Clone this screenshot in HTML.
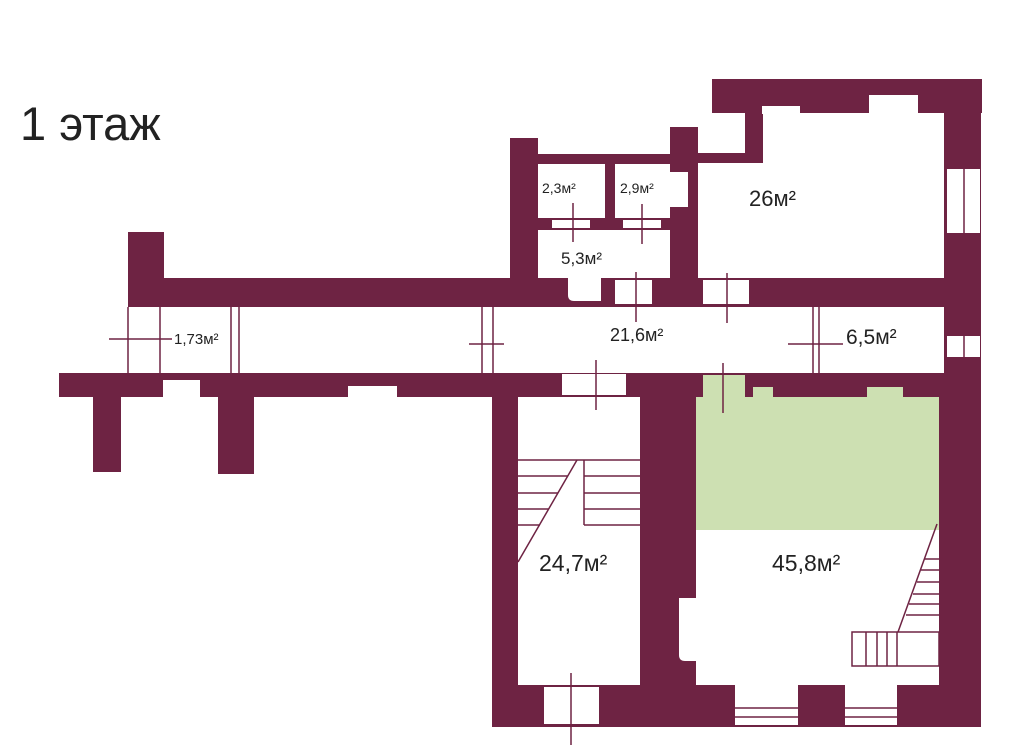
<!DOCTYPE html>
<html><head><meta charset="utf-8"><style>
html,body{margin:0;padding:0;background:#fff}
svg{display:block}
text{font-family:"Liberation Sans",sans-serif;fill:#222}
</style></head><body>
<svg width="1011" height="745" viewBox="0 0 1011 745" xmlns="http://www.w3.org/2000/svg">
<rect width="1011" height="745" fill="#fff"/>
<text x="20" y="140" font-size="47">1 этаж</text>
<g fill="#6e2343">
<rect x="712" y="79" width="270" height="34"/>
<rect x="944" y="79" width="37" height="648"/>
<rect x="745" y="113" width="18" height="50"/>
<rect x="698" y="153" width="65" height="10"/>
<rect x="670" y="127" width="28" height="151"/>
<rect x="510" y="138" width="28" height="140"/>
<rect x="538" y="154" width="132" height="10"/>
<rect x="538" y="218" width="132" height="12"/>
<rect x="605" y="164" width="10" height="54"/>
<rect x="128" y="278" width="816" height="29"/>
<rect x="128" y="232" width="36" height="46"/>
<rect x="59" y="373" width="921" height="24"/>
<rect x="93" y="397" width="28" height="75"/>
<rect x="218" y="397" width="36" height="77"/>
<rect x="492" y="397" width="488" height="330"/>
</g>
<g fill="#fff">
<rect x="763" y="113" width="181" height="165"/>
<rect x="698" y="163" width="65" height="115"/>
<rect x="762" y="106" width="38" height="8"/>
<rect x="869" y="95" width="49" height="19"/>
<rect x="538" y="164" width="67" height="54"/>
<rect x="615" y="164" width="55" height="54"/>
<rect x="670" y="172" width="18" height="35"/>
<rect x="552" y="220" width="38" height="8"/>
<rect x="623" y="220" width="38" height="8"/>
<rect x="538" y="230" width="132" height="48"/>
<path d="M568 278 H601 V301 H574 Q568 301 568 295 Z"/>
<rect x="615" y="280" width="37" height="24"/>
<rect x="703" y="280" width="46" height="24"/>
<rect x="128" y="307" width="660" height="66"/>
<rect x="788" y="321" width="27" height="52"/>
<rect x="815" y="307" width="129" height="66"/>
<rect x="163" y="380" width="37" height="17"/>
<rect x="348" y="386" width="49" height="11"/>
<rect x="562" y="374" width="64" height="21"/>
<rect x="518" y="397" width="122" height="288"/>
<rect x="544" y="687" width="55" height="37"/>
<rect x="696" y="530" width="243" height="155"/>
<path d="M679 598 H697 V661 H685 Q679 661 679 655 Z"/>
<rect x="735" y="685" width="63" height="40"/>
<rect x="845" y="685" width="52" height="40"/>
<rect x="947" y="169" width="33" height="64"/>
<rect x="947" y="336" width="33" height="21"/>
</g>
<g fill="#cde0b2">
<rect x="696" y="397" width="243" height="133"/>
<rect x="753" y="387" width="20" height="11"/>
<rect x="867" y="387" width="36" height="11"/>
<rect x="703" y="375" width="42" height="23"/>
</g>
<g stroke="#6e2343" stroke-width="1.5" fill="none">
<line x1="964" y1="169" x2="964" y2="233"/>
<line x1="964" y1="336" x2="964" y2="357"/>
<line x1="573" y1="203" x2="573" y2="242"/>
<line x1="642" y1="204" x2="642" y2="244"/>
<line x1="636" y1="272" x2="636" y2="322"/>
<line x1="727" y1="273" x2="727" y2="323"/>
<line x1="813" y1="307" x2="813" y2="373"/>
<line x1="819" y1="307" x2="819" y2="373"/>
<line x1="788" y1="344" x2="843" y2="344"/>
<line x1="128" y1="307" x2="128" y2="373"/>
<line x1="160" y1="307" x2="160" y2="373"/>
<line x1="109" y1="339" x2="172" y2="339"/>
<line x1="231" y1="307" x2="231" y2="373"/>
<line x1="239" y1="307" x2="239" y2="373"/>
<line x1="482" y1="307" x2="482" y2="373"/>
<line x1="493" y1="307" x2="493" y2="373"/>
<line x1="469" y1="344" x2="504" y2="344"/>
<line x1="596" y1="360" x2="596" y2="410"/>
<line x1="723" y1="363" x2="723" y2="413"/>
<line x1="571" y1="673" x2="571" y2="745"/>
<line x1="518" y1="460" x2="640" y2="460"/>
<line x1="584" y1="476" x2="640" y2="476"/>
<line x1="584" y1="493" x2="640" y2="493"/>
<line x1="584" y1="509" x2="640" y2="509"/>
<line x1="584" y1="525" x2="640" y2="525"/>
<line x1="584" y1="460" x2="584" y2="525"/>
<line x1="577" y1="460" x2="518" y2="562"/>
<line x1="518" y1="476" x2="568" y2="476"/>
<line x1="518" y1="493" x2="558" y2="493"/>
<line x1="518" y1="509" x2="549" y2="509"/>
<line x1="518" y1="525" x2="540" y2="525"/>
<line x1="937" y1="524" x2="898" y2="632"/>
<line x1="924" y1="559" x2="939" y2="559"/>
<line x1="921" y1="570" x2="939" y2="570"/>
<line x1="917" y1="582" x2="939" y2="582"/>
<line x1="913" y1="594" x2="939" y2="594"/>
<line x1="909" y1="604" x2="939" y2="604"/>
<line x1="906" y1="615" x2="939" y2="615"/>
<rect x="852" y="632" width="87" height="34"/>
<line x1="866" y1="632" x2="866" y2="666"/>
<line x1="877" y1="632" x2="877" y2="666"/>
<line x1="887" y1="632" x2="887" y2="666"/>
<line x1="897" y1="632" x2="897" y2="666"/>
<line x1="735" y1="708" x2="798" y2="708"/>
<line x1="735" y1="717" x2="798" y2="717"/>
<line x1="845" y1="708" x2="897" y2="708"/>
<line x1="845" y1="717" x2="897" y2="717"/>
</g>
<text x="542" y="193" font-size="14">2,3м²</text>
<text x="620" y="193" font-size="14">2,9м²</text>
<text x="561" y="264" font-size="17">5,3м²</text>
<text x="749" y="206" font-size="22">26м²</text>
<text x="610" y="341" font-size="18">21,6м²</text>
<text x="846" y="344" font-size="21">6,5м²</text>
<text x="174" y="344" font-size="15">1,73м²</text>
<text x="539" y="571" font-size="23">24,7м²</text>
<text x="772" y="571" font-size="23">45,8м²</text>
</svg>
</body></html>
